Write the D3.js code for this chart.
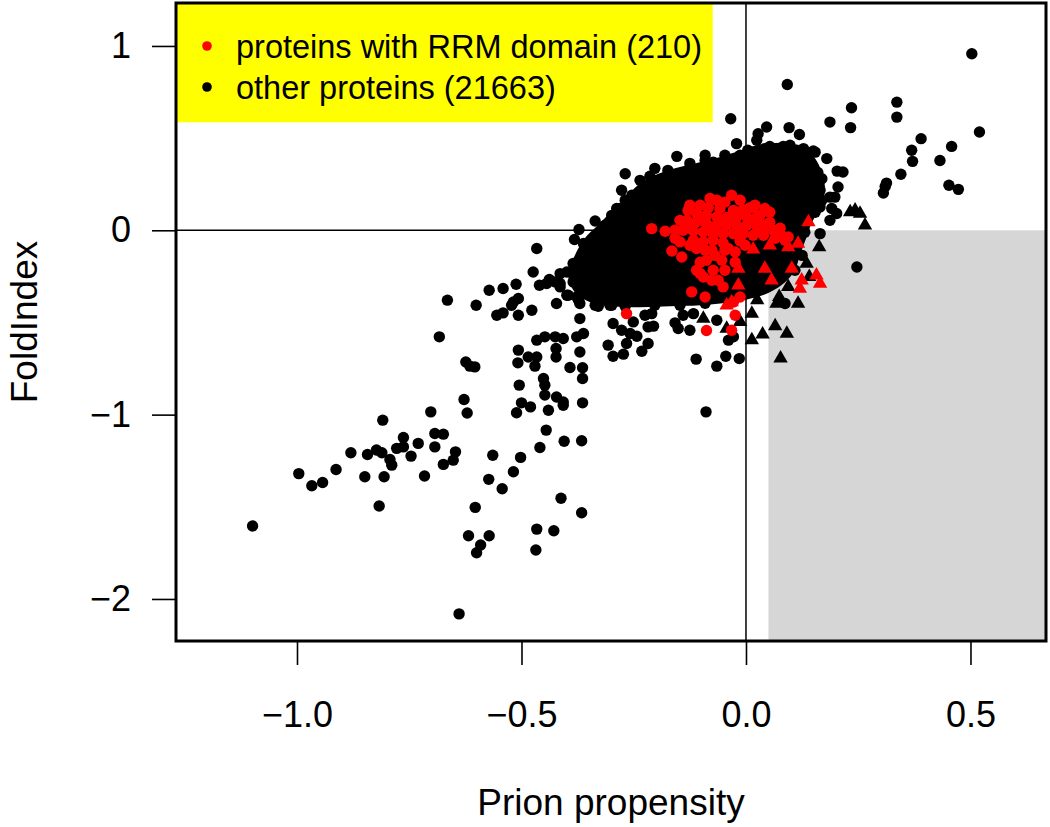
<!DOCTYPE html>
<html><head><meta charset="utf-8">
<script src="https://cdn.jsdelivr.net/npm/d3@7"></script>
<style>html,body{margin:0;padding:0;background:#fff;} svg{display:block;font-family:"Liberation Sans",Arial,Helvetica,sans-serif;}</style>
</head><body><svg id="chart" width="1050" height="827"></svg>
<script>
// ---------------- data ----------------
const xTicks = [-1.0, -0.5, 0.0, 0.5];
const xTickLabels = ["\u22121.0", "\u22120.5", "0.0", "0.5"];
const yTicks = [1, 0, -1, -2];
const yTickLabels = ["1", "0", "\u22121", "\u22122"];
const xTitle = "Prion propensity";
const yTitle = "FoldIndex";
const legendLabels = ["proteins with RRM domain (210)", "other proteins (21663)"];
const legendColors = ["#ff0000", "#000000"];
const highlightRegion = { xMin: 0.05, yMax: 0 };

// outline of the saturated (fully overlapping) core of the 21663 other proteins
const denseCoreOutline = [
  [-0.381,-0.136],[-0.359,-0.043],[-0.330,0.027],[-0.298,0.108],[-0.269,0.173],[-0.241,0.244],
  [-0.203,0.298],[-0.158,0.336],[-0.114,0.363],[-0.069,0.390],[-0.024,0.423],[0.013,0.455],
  [0.053,0.472],[0.098,0.472],[0.131,0.444],[0.154,0.390],[0.169,0.314],[0.176,0.217],
  [0.165,0.119],[0.147,0.043],[0.134,-0.043],[0.120,-0.136],[0.109,-0.217],[0.087,-0.282],
  [0.053,-0.336],[0.013,-0.369],[-0.036,-0.390],[-0.102,-0.407],[-0.169,-0.412],[-0.236,-0.417],
  [-0.298,-0.412],[-0.347,-0.390],[-0.381,-0.336],[-0.396,-0.244]
];

// other proteins, individually visible points (circles)
const otherProteins = [
  [-0.466,-0.099],[-0.474,-0.226],[-0.460,-0.298],[-0.572,-0.325],[-0.541,-0.316],[-0.512,-0.293],[-0.665,-0.379],[-0.601,-0.407],[-0.518,-0.389],[-0.507,-0.370],[-0.555,-0.461],[-0.541,-0.448],[-0.507,-0.461],[-0.477,-0.434],[-0.422,-0.397],[-0.396,-0.352],[-0.373,-0.379],[-0.370,-0.479],[-0.329,-0.412],
  [-0.683,-0.578],[-0.466,-0.596],[-0.448,-0.578],[-0.425,-0.578],[-0.407,-0.587],[-0.377,-0.578],[-0.362,-0.560],[-0.307,-0.623],[-0.296,-0.683],[-0.273,-0.672],
  [-0.624,-0.714],[-0.615,-0.737],[-0.604,-0.741],[-0.507,-0.650],[-0.508,-0.719],[-0.485,-0.687],[-0.466,-0.687],[-0.470,-0.737],[-0.423,-0.641],[-0.423,-0.687],[-0.370,-0.660],[-0.392,-0.744],[-0.364,-0.746],
  [-0.451,-0.804],[-0.364,-0.804],[-0.448,-0.840],[-0.448,-0.894],[-0.505,-0.840],[-0.628,-0.918],[-0.621,-0.991],[-0.702,-0.985],[-0.500,-0.936],[-0.480,-0.958],[-0.511,-0.990],[-0.422,-0.904],[-0.407,-0.931],[-0.407,-0.949],[-0.440,-0.976],[-0.364,-0.936],
  [-0.809,-1.030],[-0.763,-1.124],[-0.778,-1.183],[-0.763,-1.175],[-0.730,-1.156],[-0.693,-1.102],[-0.674,-1.106],[-0.693,-1.175],[-0.880,-1.207],[-0.843,-1.216],[-0.823,-1.192],[-0.811,-1.207],[-0.793,-1.243],[-0.789,-1.274],[-0.746,-1.225],[-0.647,-1.202],[-0.652,-1.247],[-0.674,-1.270],[-0.564,-1.220],[-0.502,-1.232],[-0.445,-1.084],[-0.459,-1.178],[-0.405,-1.144],[-0.366,-1.142],
  [-0.996,-1.320],[-0.913,-1.298],[-0.967,-1.386],[-0.943,-1.368],[-0.849,-1.337],[-0.806,-1.337],[-0.716,-1.333],[-0.518,-1.310],[-0.573,-1.351],[-0.543,-1.402],[-0.817,-1.496],[-0.603,-1.503],[-0.412,-1.454],[-0.366,-1.532],[-1.099,-1.604],[-0.618,-1.657],[-0.572,-1.657],[-0.591,-1.707],[-0.600,-1.749],[-0.466,-1.621],[-0.428,-1.630],[-0.468,-1.734],[-0.639,-2.081],
  [-0.299,-0.407],[-0.251,-0.497],[-0.296,-0.506],[-0.277,-0.542],[-0.258,-0.560],[-0.243,-0.575],[-0.218,-0.524],[-0.206,-0.520],[-0.225,-0.461],[-0.210,-0.452],[-0.158,-0.502],[-0.151,-0.533],[-0.140,-0.461],[-0.125,-0.542],[-0.117,-0.452],[-0.266,-0.614],[-0.218,-0.614],[-0.232,-0.656],[-0.111,-0.699],[-0.065,-0.737],[-0.045,-0.683],[-0.015,-0.696],[-0.039,-0.596],[-0.028,-0.578],[-0.089,-0.985],[-0.065,-0.488],
  [-0.336,0.050],[-0.372,0.004],[-0.382,-0.050],[-0.438,-0.267],[-0.425,-0.280],[-0.414,-0.289],[-0.399,-0.226],[-0.377,-0.199],[-0.359,-0.190],[-0.336,-0.235],[-0.385,-0.280],[-0.373,-0.307],[-0.355,-0.316],[-0.399,-0.352],[-0.377,-0.361],[-0.303,-0.407],[-0.522,-0.407],[-0.299,0.081],[-0.288,0.118],
  [-0.154,0.401],[-0.021,0.470],[-0.269,0.307],[-0.236,0.271],[-0.277,0.217],[-0.269,0.163],[-0.281,0.118],[-0.362,-0.072],[-0.385,-0.180],[-0.414,-0.235],[-0.444,-0.289],[-0.414,-0.307],[-0.362,-0.343],[-0.336,-0.407],[-0.370,-0.397],
  [0.092,0.791],[-0.034,0.605],[0.027,0.524],[0.046,0.560],[0.024,0.488],[0.096,0.557],[0.119,0.520],[0.150,0.430],[0.042,0.443],[0.083,0.455],[0.113,0.434],[0.128,0.443],[-0.073,0.370],[-0.013,0.407],[0.187,0.587],[0.235,0.665],[0.233,0.557],[0.336,0.695],[0.336,0.614],[0.154,0.424],[0.203,0.321],[0.216,0.316],[0.310,0.238],[0.313,0.256],[0.205,0.235],[0.187,0.180],[0.165,0.126],[0.247,-0.199],[0.503,0.958],[0.390,0.497],[0.369,0.434],[0.371,0.374],[0.458,0.455],[0.432,0.379],[0.345,0.304],[0.306,0.202],[0.452,0.244],[0.473,0.222],[0.520,0.533],[0.180,0.389],[0.169,0.280],[0.198,0.180],[0.143,0.180],[0.169,0.163],[0.191,0.118],[0.202,0.091],[0.187,0.054],[0.165,-0.018],[0.087,-0.397],
  [-0.214,0.293],[-0.174,0.325],[-0.125,0.363],[-0.091,0.380],[-0.047,0.407],[0.004,0.434],[0.053,0.455],[0.098,0.461],[0.138,0.401],[0.160,0.314],[0.165,0.217],[0.154,0.098],[0.131,-0.011],[0.125,-0.136],[0.109,-0.217],[-0.254,0.190],[-0.285,0.098],[-0.314,0.027],[-0.336,-0.081],[-0.347,-0.173],[-0.325,-0.379],[-0.269,-0.412],[-0.203,-0.407],[-0.147,-0.407],[-0.091,-0.396],[-0.040,-0.379],[-0.203,0.336],[-0.091,0.407]
];

// other proteins drawn as triangles
const otherTriangles = [
  [0.232,0.099],[0.243,0.108],[0.254,0.091],[0.265,0.027],[0.163,-0.091],[0.135,-0.180],[0.141,-0.253],[0.074,-0.361],[0.116,-0.397],[0.025,-0.379],[0.013,-0.452],[0.065,-0.519],[0.091,-0.560],[0.037,-0.564],[0.013,-0.596],[0.077,-0.695],[-0.013,-0.497],[-0.043,-0.533],[-0.095,-0.479],[0.094,-0.307],[0.068,-0.397]
];

// proteins with RRM domain (circles)
const rrmProteins = [
  [-0.032,0.190],[-0.065,0.163],[-0.047,0.153],[-0.084,0.123],[-0.058,0.118],[-0.028,0.108],[-0.006,0.112],[0.009,0.123],[0.042,0.118],
  [-0.110,0.091],[-0.088,0.081],[-0.065,0.072],[-0.043,0.069],[-0.021,0.072],[0.002,0.072],[0.024,0.072],
  [-0.132,0.054],[-0.110,0.045],[-0.088,0.036],[-0.065,0.027],[-0.043,0.027],[-0.021,0.027],[0.002,0.027],[0.024,0.022],[0.046,0.018],[0.061,0.000],
  [-0.140,0.000],[-0.117,-0.004],[-0.095,-0.009],[-0.073,-0.018],[-0.051,-0.018],[-0.028,-0.018],[-0.006,-0.018],[0.016,-0.027],[0.039,-0.027],[0.076,-0.018],[0.094,-0.036],
  [-0.210,0.009],[-0.180,-0.005],[-0.147,-0.063],[-0.117,-0.054],[-0.095,-0.063],[-0.073,-0.054],[-0.051,-0.069],[-0.013,-0.058],
  [-0.165,-0.112],[-0.143,-0.145],[-0.110,-0.099],[-0.088,-0.163],[-0.054,-0.163],[-0.024,-0.118],
  [-0.110,-0.217],[-0.095,-0.253],[-0.073,-0.217],[-0.121,-0.334],[-0.091,-0.362],[-0.051,-0.307],[-0.028,-0.389],[-0.013,-0.362],
  [-0.266,-0.452],[-0.088,-0.544],[-0.032,-0.542],[-0.024,-0.461],[-0.102,-0.235],
  [-0.125,0.136],[0.031,0.043],[-0.158,-0.043],[-0.076,-0.108],[-0.040,-0.098],[-0.062,-0.271],
  [-0.125,0.011],[-0.102,0.065],[-0.080,0.011],[-0.058,0.043],[-0.036,0.054],[-0.013,0.011],[0.009,0.043],[0.031,0.000],[0.053,0.043],[0.076,0.011],[0.087,-0.054],[0.065,-0.043],
  [-0.125,-0.081],[-0.091,-0.108],[-0.069,-0.136],[-0.047,-0.108],[-0.102,-0.173],[-0.076,-0.271],[-0.047,-0.217],[-0.024,-0.173],[-0.002,-0.081],
  [-0.147,0.054],[-0.158,0.000],[-0.129,0.108],[0.031,0.081],[0.053,0.098],[-0.013,0.163],[0.020,0.136],[-0.102,0.136],[-0.080,0.173]
];

// proteins with RRM domain (triangles)
const rrmTriangles = [
  [0.139,0.045],[0.116,-0.072],[0.094,-0.091],[0.053,-0.081],[0.016,-0.103],[-0.017,-0.208],[0.042,-0.208],[0.102,-0.208],[0.057,-0.271],[0.124,-0.271],[0.157,-0.244],[0.165,-0.289],[0.120,-0.316],[-0.017,-0.298],[-0.043,-0.407],[-0.032,-0.389],[0.013,0.118]
];

// ---------------- chart ----------------
const svg = d3.select("#chart");
const x = d3.scaleLinear().domain([-1.2695, 0.6682]).range([176, 1046]);
const y = d3.scaleLinear().domain([-2.228, 1.233]).range([641, 3]);
const [xMin, xMax] = x.domain();
const [yMin, yMax] = y.domain();
const dotR = 5.7;

// grey highlighted quadrant
svg.append("rect")
  .attr("x", x(highlightRegion.xMin)).attr("y", y(highlightRegion.yMax))
  .attr("width", x(xMax) - x(highlightRegion.xMin))
  .attr("height", y(yMin) - y(highlightRegion.yMax))
  .attr("fill", "#d6d6d6");

// reference lines
svg.append("line").attr("x1", x(xMin)).attr("x2", x(0)).attr("y1", y(0)).attr("y2", y(0))
  .attr("stroke", "#000").attr("stroke-width", 1.5);
svg.append("line").attr("x1", x(0)).attr("x2", x(0)).attr("y1", y(yMax)).attr("y2", y(yMin))
  .attr("stroke", "#000").attr("stroke-width", 1.5);

// dense core of other proteins
svg.append("path").datum(denseCoreOutline)
  .attr("d", d3.line().x(d => x(d[0])).y(d => y(d[1])).curve(d3.curveCatmullRomClosed))
  .attr("fill", "#000");

svg.append("g").selectAll("circle").data(otherProteins).join("circle")
  .attr("cx", d => x(d[0])).attr("cy", d => y(d[1])).attr("r", dotR).attr("fill", "#000");

const tri = d3.symbol().type(d3.symbolTriangle).size(90);
svg.append("g").selectAll("path").data(otherTriangles).join("path")
  .attr("transform", d => `translate(${x(d[0])},${y(d[1])})`).attr("d", tri).attr("fill", "#000");

svg.append("g").selectAll("circle").data(rrmProteins).join("circle")
  .attr("cx", d => x(d[0])).attr("cy", d => y(d[1])).attr("r", dotR).attr("fill", "#ff0000");

svg.append("g").selectAll("path").data(rrmTriangles).join("path")
  .attr("transform", d => `translate(${x(d[0])},${y(d[1])})`).attr("d", tri).attr("fill", "#ff0000");

// legend
svg.append("rect").attr("x", 177).attr("y", 4).attr("width", 712.7 - 177).attr("height", 122.3 - 4).attr("fill", "#ffff00");
const lg = svg.append("g");
legendLabels.forEach((t, i) => {
  lg.append("circle").attr("cx", 207).attr("cy", 46 + i * 41).attr("r", 4.8).attr("fill", legendColors[i]);
  lg.append("text").attr("x", 236).attr("y", 58 + i * 41).attr("font-size", 32.5).attr("fill", "#000").text(t);
});

// axes
const xAxis = svg.append("g").attr("transform", "translate(0,641)")
  .call(d3.axisBottom(x).tickValues(xTicks).tickFormat((d, i) => xTickLabels[i]).tickSize(24).tickPadding(36));
xAxis.select(".domain").remove();
xAxis.selectAll("line").attr("stroke", "#000").attr("stroke-width", 1.6);
xAxis.selectAll("text").attr("font-size", 36).attr("font-family", "Liberation Sans, Arial, sans-serif").attr("fill", "#000");

const yAxis = svg.append("g").attr("transform", "translate(176,0)")
  .call(d3.axisLeft(y).tickValues(yTicks).tickFormat((d, i) => yTickLabels[i]).tickSize(24).tickPadding(21));
yAxis.select(".domain").remove();
yAxis.selectAll("line").attr("stroke", "#000").attr("stroke-width", 1.6);
yAxis.selectAll("text").attr("font-size", 36).attr("font-family", "Liberation Sans, Arial, sans-serif").attr("fill", "#000");

// frame
svg.append("rect").attr("x", x(xMin)).attr("y", y(yMax))
  .attr("width", x(xMax) - x(xMin)).attr("height", y(yMin) - y(yMax))
  .attr("fill", "none").attr("stroke", "#000").attr("stroke-width", 3);

// titles
svg.append("text").attr("x", (x(xMin) + x(xMax)) / 2).attr("y", 815).attr("text-anchor", "middle")
  .attr("font-size", 37).attr("fill", "#000").text(xTitle);
svg.append("text").attr("transform", `translate(37,${(y(yMin) + y(yMax)) / 2}) rotate(-90)`)
  .attr("text-anchor", "middle").attr("font-size", 37).attr("fill", "#000").text(yTitle);
</script></body></html>
